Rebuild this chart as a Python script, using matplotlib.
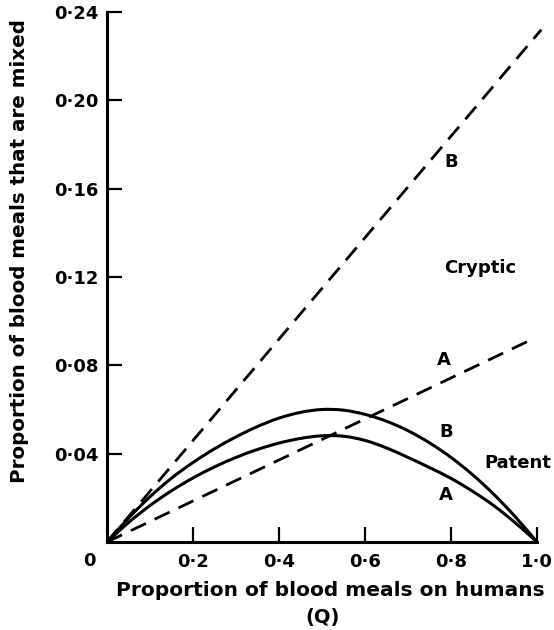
import matplotlib
matplotlib.use("Agg")
import matplotlib.pyplot as plt
from matplotlib.path import Path
from matplotlib.patches import PathPatch

# Data
q_points = [0, .05, .1, .15, .2, .25, .3, .35, .4, .45, .5, .55, .6, .65, .7, .75, .8, .85, .9, .95, 1.0]
patent_b = [0, .0108, .0205, .0289, .0360, .0422, .0476, .0523, .0561, .0587, .0600, .0597, .0578, .0547, .0504, .0449, .0383, .0305, .0215, .0113, 0]
patent_a = [0, .0088, .0165, .0232, .0290, .0340, .0383, .0419, .0448, .0469, .0481, .0479, .0460, .0426, .0383, .0337, .0288, .0230, .0164, .0086, 0]
cryptic_b_q = [0, 1.01]
cryptic_b = [0, 0.232]
cryptic_a_q = [0, 0.98]
cryptic_a = [0, 0.091]

y_ticks = [0.04, 0.08, 0.12, 0.16, 0.20, 0.24]
y_tick_labels = ["0·04", "0·08", "0·12", "0·16", "0·20", "0·24"]
x_ticks = [0.2, 0.4, 0.6, 0.8, 1.0]
x_tick_labels = ["0·2", "0·4", "0·6", "0·8", "1·0"]
origin_label = "0"

labels = [
    ("B", 0.80, 0.172),
    ("Cryptic", 0.867, 0.124),
    ("A", 0.784, 0.0824),
    ("B", 0.788, 0.050),
    ("Patent", 0.955, 0.036),
    ("A", 0.788, 0.0213),
]


def smooth_path(xs, ys):
    """Catmull-Rom curve through the given points, as cubic Bezier segments."""
    pts = list(zip(xs, ys))
    verts = [pts[0]]
    codes = [Path.MOVETO]
    n = len(pts)
    for i in range(n - 1):
        p0 = pts[i - 1] if i > 0 else pts[i]
        p1 = pts[i]
        p2 = pts[i + 1]
        p3 = pts[i + 2] if i + 2 < n else pts[i + 1]
        c1 = (p1[0] + (p2[0] - p0[0]) / 6, p1[1] + (p2[1] - p0[1]) / 6)
        c2 = (p2[0] - (p3[0] - p1[0]) / 6, p2[1] - (p3[1] - p1[1]) / 6)
        verts += [c1, c2, p2]
        codes += [Path.CURVE4] * 3
    return Path(verts, codes)


plt.rcParams['font.family'] = ['DejaVu Sans']
fig = plt.figure(figsize=(5.54, 6.30), dpi=100)
W, H = 554, 630
left, right, top, bottom = 107, 554, 12, 542
ax = fig.add_axes([left / W, (H - bottom) / H, (right - left) / W, (bottom - top) / H])

for series in (patent_b, patent_a):
    ax.add_patch(PathPatch(smooth_path(q_points, series), fill=False,
                           edgecolor='black', lw=2.2, capstyle='round'))
ax.plot(cryptic_b_q, cryptic_b, color='black', lw=2.0, dashes=(6, 3.5))
ax.plot(cryptic_a_q, cryptic_a, color='black', lw=2.0, dashes=(6, 3.5))

ax.set_xlim(0, (right - left) / 430)
ax.set_ylim(0, 0.24)
ax.spines['top'].set_visible(False)
ax.spines['right'].set_visible(False)
for s in ('left', 'bottom'):
    ax.spines[s].set_linewidth(2.2)
ax.spines['bottom'].set_bounds(0, 1.0)

ax.set_yticks(y_ticks)
ax.set_yticklabels(y_tick_labels, fontsize=13, fontweight='bold')
ax.set_xticks(x_ticks)
ax.set_xticklabels(x_tick_labels, fontsize=13, fontweight='bold')
ax.tick_params(axis='both', direction='in', length=10.5, width=1.6)
ax.tick_params(axis='y', pad=6)
ax.tick_params(axis='x', pad=8)
ax.text(-0.04, -0.0045, origin_label, fontsize=13, fontweight='bold',
        ha='center', va='top')

for txt, x, y in labels:
    ax.text(x, y, txt, fontsize=13, fontweight='bold', ha='center', va='center')

fig.text(330 / W, 1 - 591 / H, "Proportion of blood meals on humans",
         fontsize=14.5, fontweight='bold', ha='center', va='center')
fig.text(323 / W, 1 - 617 / H, "(Q)",
         fontsize=14, fontweight='bold', ha='center', va='center')
fig.text(20 / W, 1 - 251 / H, "Proportion of blood meals that are mixed",
         fontsize=14.3, fontweight='bold', ha='center', va='center', rotation=90)

fig.savefig("out.png", dpi=100)
